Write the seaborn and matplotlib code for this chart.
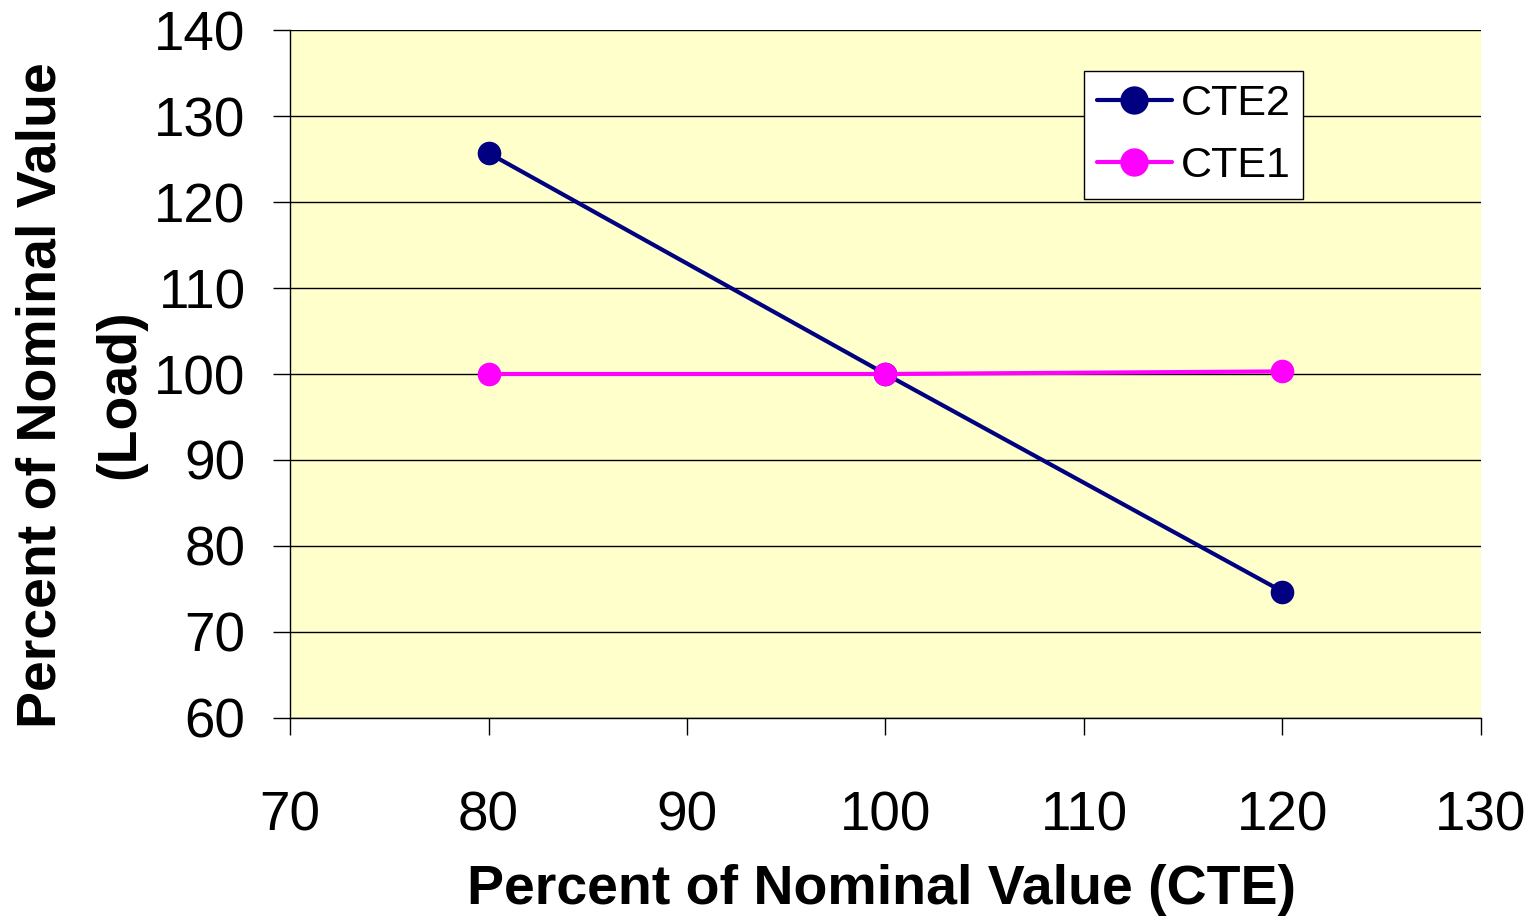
import seaborn as sns
import matplotlib.pyplot as plt
import pandas as pd

cte_pct = [80, 100, 120]
cte2_load = [125.7, 100.0, 74.7]
cte1_load = [100.0, 100.0, 100.3]
series_names = ['CTE2', 'CTE1']

PALETTE = {'CTE2': '#000080', 'CTE1': '#FF00FF'}

df = pd.concat([
    pd.DataFrame({'cte': cte_pct, 'load': cte2_load, 'series': 'CTE2'}),
    pd.DataFrame({'cte': cte_pct, 'load': cte1_load, 'series': 'CTE1'}),
])

sns.set_style('ticks')
plt.rcParams['font.family'] = ['Liberation Sans', 'DejaVu Sans']
plt.rcParams['text.color'] = 'black'
plt.rcParams['axes.labelcolor'] = 'black'
plt.rcParams['xtick.color'] = 'black'
plt.rcParams['ytick.color'] = 'black'

fig = plt.figure(figsize=(15.32, 9.16), dpi=100)
ax = fig.add_axes([0.1893, 0.2162, 0.7774, 0.751])
ax.set_facecolor('#FFFFCC')

sns.lineplot(data=df, x='cte', y='load', hue='series', hue_order=series_names,
             palette=PALETTE, marker='o', markersize=17, markeredgewidth=0,
             linewidth=3, ax=ax, zorder=3)

ax.set_xlim(70, 130)
ax.set_ylim(60, 140)
ax.set_xticks(range(70, 131, 10))
ax.set_yticks(range(60, 141, 10))
ax.yaxis.grid(True, color='black', linewidth=1)
ax.set_axisbelow(True)
for s in ['top', 'right']:
    ax.spines[s].set_visible(False)
for s in ['left', 'bottom']:
    ax.spines[s].set_color('black')
    ax.spines[s].set_linewidth(1)
ax.tick_params(axis='both', labelsize=39.5, length=12, width=1, direction='out')
ax.tick_params(axis='x', pad=40)
ax.tick_params(axis='y', pad=20)

ax.set_xlabel('Percent of Nominal Value (CTE)', fontsize=40, fontweight='bold')
ax.xaxis.set_label_coords(0.497, -0.212)
ax.set_ylabel('Percent of Nominal Value\n(Load)', fontsize=40, fontweight='bold',
              linespacing=1.65)
ax.yaxis.set_label_coords(-0.121, 0.47)

leg = ax.legend(loc='upper left', bbox_to_anchor=(0.6665, 0.94), fontsize=31,
                frameon=True, fancybox=False, framealpha=1, edgecolor='black',
                handlelength=1.75, handletextpad=0.2, borderpad=0.3, labelspacing=0.5,
                borderaxespad=0, markerscale=1.2)
leg.get_frame().set_linewidth(1)

fig.savefig('out.png', dpi=100)
